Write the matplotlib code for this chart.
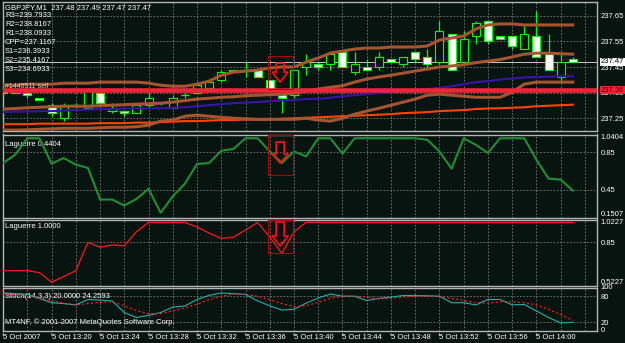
import numpy as np
import matplotlib
matplotlib.use("Agg")
import matplotlib.pyplot as plt
from matplotlib.patches import Rectangle, Polygon

plt.rcParams['font.family'] = ['Liberation Sans', 'DejaVu Sans']

# --- data ---
bars = np.arange(48)   # 1-minute bars from 13:16
time_ticks = [0, 4, 8, 12, 16, 20, 24, 28, 32, 36, 40, 44]
time_labels = ["5 Oct 2007", "5 Oct 13:20", "5 Oct 13:24", "5 Oct 13:28", "5 Oct 13:32",
               "5 Oct 13:36", "5 Oct 13:40", "5 Oct 13:44", "5 Oct 13:48", "5 Oct 13:52",
               "5 Oct 13:56", "5 Oct 14:00"]

opens = [237.36, 237.35, 237.35, 237.33, 237.30, 237.25, 237.30, 237.29, 237.35, 237.28,
         237.28, 237.27, 237.30, 237.31, 237.29, 237.34, 237.35, 237.37, 237.40, 237.44,
         237.44, 237.44, 237.40, 237.34, 237.34, 237.45, 237.46, 237.46, 237.51, 237.43,
         237.45, 237.45, 237.48, 237.46, 237.51, 237.49, 237.47, 237.58, 237.47, 237.57,
         237.63, 237.57, 237.57, 237.52, 237.57, 237.50, 237.41, 237.48]
highs = [237.36, 237.36, 237.36, 237.33, 237.31, 237.31, 237.31, 237.37, 237.36, 237.31,
         237.28, 237.31, 237.35, 237.31, 237.34, 237.35, 237.39, 237.39, 237.44, 237.44,
         237.47, 237.44, 237.40, 237.35, 237.44, 237.50, 237.47, 237.51, 237.51, 237.51,
         237.48, 237.51, 237.48, 237.49, 237.51, 237.52, 237.63, 237.58, 237.59, 237.63,
         237.63, 237.57, 237.57, 237.61, 237.67, 237.58, 237.50, 237.49]
lows = [237.35, 237.35, 237.33, 237.32, 237.26, 237.24, 237.29, 237.29, 237.30, 237.27,
        237.26, 237.27, 237.29, 237.30, 237.29, 237.33, 237.35, 237.36, 237.39, 237.43,
        237.41, 237.41, 237.36, 237.27, 237.33, 237.42, 237.44, 237.44, 237.45, 237.42,
        237.44, 237.44, 237.47, 237.45, 237.47, 237.45, 237.46, 237.44, 237.46, 237.54,
        237.54, 237.56, 237.52, 237.52, 237.49, 237.44, 237.39, 237.47]
closes = [237.35, 237.36, 237.34, 237.32, 237.27, 237.30, 237.30, 237.36, 237.31, 237.29,
          237.27, 237.30, 237.33, 237.31, 237.33, 237.34, 237.38, 237.39, 237.43, 237.43,
          237.44, 237.41, 237.36, 237.33, 237.44, 237.47, 237.45, 237.50, 237.45, 237.46,
          237.44, 237.49, 237.47, 237.49, 237.48, 237.46, 237.59, 237.44, 237.56, 237.62,
          237.55, 237.56, 237.53, 237.58, 237.49, 237.44, 237.47, 237.47]

band_upper = [237.379, 237.379, 237.383, 237.383, 237.383, 237.387, 237.387, 237.387, 237.391, 237.391,
              237.391, 237.391, 237.387, 237.379, 237.375, 237.375, 237.383, 237.395, 237.418, 237.430,
              237.434, 237.438, 237.446, 237.450, 237.450, 237.469, 237.485, 237.504, 237.512, 237.520,
              237.524, 237.524, 237.528, 237.528, 237.528, 237.532, 237.555, 237.563, 237.571, 237.598,
              237.614, 237.618, 237.618, 237.614, 237.614, 237.614, 237.614, 237.614]
band_mid = [237.286, 237.288, 237.291, 237.293, 237.295, 237.297, 237.297, 237.297, 237.299, 237.301,
            237.303, 237.305, 237.307, 237.309, 237.313, 237.319, 237.325, 237.328, 237.332, 237.334,
            237.338, 237.340, 237.342, 237.344, 237.348, 237.356, 237.364, 237.371, 237.377, 237.391,
            237.403, 237.411, 237.418, 237.426, 237.434, 237.442, 237.450, 237.454, 237.459, 237.467,
            237.473, 237.479, 237.489, 237.500, 237.504, 237.504, 237.502, 237.500]
band_lower = [237.204, 237.204, 237.205, 237.207, 237.209, 237.211, 237.211, 237.211, 237.213, 237.215,
              237.215, 237.217, 237.223, 237.239, 237.243, 237.258, 237.262, 237.258, 237.254, 237.250,
              237.248, 237.246, 237.246, 237.246, 237.246, 237.250, 237.243, 237.239, 237.250, 237.266,
              237.278, 237.289, 237.301, 237.313, 237.325, 237.340, 237.344, 237.340, 237.336, 237.332,
              237.332, 237.332, 237.352, 237.383, 237.391, 237.391, 237.391, 237.391]
ma_purple = [237.274, 237.276, 237.276, 237.278, 237.278, 237.280, 237.282, 237.284, 237.286, 237.286,
             237.288, 237.289, 237.289, 237.289, 237.291, 237.293, 237.297, 237.301, 237.305, 237.309,
             237.311, 237.313, 237.317, 237.319, 237.321, 237.325, 237.326, 237.330, 237.336, 237.340,
             237.344, 237.348, 237.350, 237.354, 237.358, 237.364, 237.369, 237.375, 237.383, 237.391,
             237.395, 237.401, 237.405, 237.409, 237.411, 237.412, 237.414, 237.414]
ma_orange = [237.227, 237.227, 237.227, 237.229, 237.229, 237.229, 237.229, 237.229, 237.231, 237.231,
             237.231, 237.233, 237.233, 237.235, 237.237, 237.239, 237.239, 237.241, 237.243, 237.243,
             237.245, 237.245, 237.246, 237.248, 237.250, 237.252, 237.254, 237.256, 237.258, 237.260,
             237.262, 237.264, 237.266, 237.270, 237.272, 237.274, 237.278, 237.280, 237.282, 237.286,
             237.288, 237.289, 237.291, 237.293, 237.297, 237.299, 237.301, 237.303]

bid_price = 237.47
order_price = 237.36
pivots = ["R3=239.7933", "R2=238.8167", "R1=238.0933", "CPP=237.1167",
          "S1=236.3933", "S2=235.4167", "S3=234.6933"]

laguerre_fast = [0.735, 0.824, 1.0, 1.0, 0.728, 0.788, 0.717, 0.682, 0.343, 0.343,
                 0.279, 0.350, 0.457, 0.201, 0.378, 0.514, 0.724, 0.735, 0.866, 0.885,
                 1.0, 1.0, 0.859, 0.735, 0.859, 0.806, 1.0, 1.0, 0.834, 1.0,
                 1.0, 1.0, 1.0, 1.0, 1.0, 0.984, 0.859, 0.674, 1.0, 0.930,
                 0.842, 1.0, 1.0, 1.0, 0.770, 0.567, 0.557, 0.4404]
laguerre_slow = [0.635, 0.635, 0.635, 0.620, 0.547, 0.590, 0.635, 0.850, 0.812, 0.830,
                 0.824, 0.930, 1.0, 1.0, 1.0, 1.0, 0.966, 0.920, 0.880, 0.888,
                 0.943, 1.0, 0.890, 0.767, 0.930, 1.0, 1.0, 1.0, 1.0, 1.0,
                 1.0, 1.0, 1.0, 1.0, 1.0, 1.0, 1.0, 1.0, 1.0, 1.0,
                 1.0, 1.0, 1.0, 1.0, 1.0, 1.0, 1.0, 1.0]

stoch_main = [87.5, 86, 84, 75, 65, 63, 60, 72.5, 71, 69, 42.5, 31, 36, 42.5, 55, 57.5,
              72.5, 82, 87.5, 86, 84, 69, 58, 48, 50, 64, 76, 85, 80, 80, 70, 75,
              78, 81.5, 81.5, 81, 80, 65, 65, 60, 72.5, 72.5, 60, 61, 46, 31, 18.5, 20.0]
stoch_signal = [84, 83, 82, 76, 69, 64, 60, 63, 66, 67, 58, 47, 40, 40, 46, 53,
                62, 72, 80, 85, 84, 80, 72, 63, 56, 58, 66, 75, 80, 80, 78, 74,
                75, 78, 80, 80, 80, 75, 70, 65, 64, 67, 67, 65, 60, 50, 38, 24.2593]

# --- look ---
BG = "#081410"
GRID = "#7c7c7c"
FS = 5.5
W, H = 625, 343

fig = plt.figure(figsize=(W / 100, H / 100), dpi=100, facecolor=BG)


def panel(top, bottom):
    ax = fig.add_axes([2.5 / W, 1 - bottom / H, 594.5 / W, (bottom - top) / H])
    ax.set_facecolor(BG)
    for s in ax.spines.values():
        s.set_color("#b4b4b4")
        s.set_linewidth(1)
    ax.set_xlim(-0.05, 49.0)
    ax.set_xticks(range(0, 49, 2))
    ax.grid(axis="both", color=GRID, linestyle=(0, (2, 2)), linewidth=0.6)
    ax.tick_params(axis="x", length=0, labelbottom=False)
    ax.yaxis.tick_right()
    ax.tick_params(axis="y", length=0, pad=2.5, labelsize=FS, labelcolor="white")
    return ax


def edge_labels(ax, top_txt, bottom_txt):
    tr = ax.get_yaxis_transform()
    lo, hi = ax.get_ylim()
    ax.text(1.006, hi, top_txt, transform=tr, va="top", ha="left", color="white", fontsize=FS)
    ax.text(1.006, lo, bottom_txt, transform=tr, va="bottom", ha="left", color="white", fontsize=FS)


def down_arrow(ax, x0, x1, y_top, y_bot, shaft_top, head_top, tip):
    # red box with a hollow down arrow
    ax.add_patch(Rectangle((x0, y_bot), x1 - x0, y_top - y_bot, fill=False,
                           edgecolor="#b00000", linewidth=0.8, zorder=6))
    xc = (x0 + x1) / 2
    pts = [(xc - 0.33, shaft_top), (xc + 0.33, shaft_top), (xc + 0.33, head_top),
           (xc + 0.66, head_top), (xc, tip), (xc - 0.66, head_top), (xc - 0.33, head_top)]
    ax.add_patch(Polygon(pts, closed=True, fill=False, edgecolor="#ff1010",
                         linewidth=1.2, zorder=6))


# --- main price panel ---
ax = panel(2, 131)
ax.set_ylim(237.2004, 237.7035)
ax.set_yticks([237.25, 237.35, 237.45, 237.55, 237.65])
ax.set_yticklabels(["237.25", "237.35", "237.45", "237.55", "237.65"])

for i in bars:
    o, h, l, c = opens[i], highs[i], lows[i], closes[i]
    ax.vlines(i, l, h, color="#00ff00", linewidth=0.9, zorder=2)
    if o == c:
        ax.hlines(o, i - 0.33, i + 0.33, color="#00ff00", linewidth=0.9, zorder=3)
    else:
        face = "white" if c < o else BG
        ax.add_patch(Rectangle((i - 0.33, min(o, c)), 0.66, abs(c - o), facecolor=face,
                               edgecolor="#00ff00", linewidth=0.8, zorder=3))

ax.axhline(bid_price, color="#c8c8c8", linewidth=0.7, zorder=1.5)
ax.plot(bars, ma_orange, color="#ff4500", linewidth=1.5, zorder=4)
ax.plot(bars, ma_purple, color="#3a14a8", linewidth=1.5, zorder=4)
ax.plot(bars, band_lower, color="#a5552f", linewidth=2.2, zorder=4)
ax.plot(bars, band_mid, color="#a5552f", linewidth=2.2, zorder=4)
ax.plot(bars, band_upper, color="#a5552f", linewidth=2.2, zorder=4)
ax.axhline(order_price, color="#f2243a", linewidth=3.3, zorder=5)

tr = ax.get_yaxis_transform()
ax.text(1.006, bid_price, f"{bid_price:.2f}", transform=tr, va="center", ha="left",
        fontsize=FS, color="black", zorder=10,
        bbox=dict(facecolor="white", edgecolor="none", pad=0.6))
ax.text(1.006, order_price, f"{order_price:.2f}", transform=tr, va="center", ha="left",
        fontsize=FS, color="#5a0000", zorder=10,
        bbox=dict(facecolor="#f2243a", edgecolor="none", pad=0.6))

down_arrow(ax, 21.82, 23.89, 237.493, 237.364, 237.465, 237.430, 237.391)

fig.text(5 / W, 1 - 7.3 / H, "GBPJPY,M1  237.48 237.49 237.47 237.47", color="white",
         fontsize=FS, va="center", ha="left")
for k, s in enumerate(pivots):
    fig.text(5 / W, 1 - (15.5 + 9 * k) / H, s, color="white", fontsize=FS, va="center", ha="left")
fig.text(5 / W, 1 - 86.5 / H, "#1445511 sell", color="#d0d0d0", fontsize=FS - 0.5,
         va="center", ha="left")

# --- Laguerre 1 ---
ax1 = panel(134.5, 217.5)
ax1.set_ylim(0.1507, 1.0404)
ax1.set_yticks([0.85, 0.45])
ax1.set_yticklabels(["0.85", "0.45"])
ax1.plot(bars, laguerre_fast, color="#1f8f34", linewidth=1.5, zorder=4)
edge_labels(ax1, "1.0404", "0.1507")
down_arrow(ax1, 21.82, 23.89, 1.035, 0.606, 0.960, 0.831, 0.735)
ax1.text(0.004, 0.88, "Laguerre 0.4404", transform=ax1.transAxes, color="white",
         fontsize=FS, va="center", ha="left")

# --- Laguerre 2 ---
ax2 = panel(219.5, 285.5)
ax2.set_ylim(0.5227, 1.0227)
ax2.set_yticks([0.85])
ax2.set_yticklabels(["0.85"])
ax2.plot(bars, laguerre_slow, color="#ff1a1a", linewidth=0.9, zorder=4)
edge_labels(ax2, "1.0227", "0.5227")
down_arrow(ax2, 21.82, 23.89, 1.0227, 0.769, 1.004, 0.898, 0.822)
ax2.text(0.004, 0.89, "Laguerre 1.0000", transform=ax2.transAxes, color="white",
         fontsize=FS, va="center", ha="left")

# --- Stochastic ---
ax3 = panel(287.5, 331)
ax3.set_ylim(0, 100)
ax3.set_yticks([80, 20])
ax3.set_yticklabels(["80", "20"])
ax3.plot(bars, stoch_main, color="#20b2aa", linewidth=0.8, zorder=4)
ax3.plot(bars, stoch_signal, color="#ff2020", linewidth=0.8, linestyle=(0, (2, 2)), zorder=4)
tr3 = ax3.get_yaxis_transform()
ax3.text(1.006, 100, "100", transform=tr3, va="center", ha="left", color="white", fontsize=FS)
ax3.text(1.006, 0, "0", transform=tr3, va="center", ha="left", color="white", fontsize=FS)
ax3.text(0.004, 0.79, "Stoch(14,3,3) 20.0000 24.2593", transform=ax3.transAxes,
         color="white", fontsize=FS, va="center", ha="left")
ax3.text(0.004, 0.2, "MT4NF, \u00a9 2001-2007 MetaQuotes Software Corp.", transform=ax3.transAxes,
         color="white", fontsize=FS, va="center", ha="left")

# time axis under the last panel
for t, lab in zip(time_ticks, time_labels):
    ax3.annotate("", xy=(t, 0), xytext=(t, -5), xycoords=("data", "axes fraction"),
                 textcoords=("data", "offset points"), annotation_clip=False,
                 arrowprops=dict(arrowstyle="-", color="#b4b4b4", linewidth=0.8))
    ax3.text(t, -0.08, lab, transform=ax3.get_xaxis_transform(), color="white",
             fontsize=FS, va="top", ha="left", clip_on=False)

fig.savefig("out.png", dpi=100, facecolor=BG)
